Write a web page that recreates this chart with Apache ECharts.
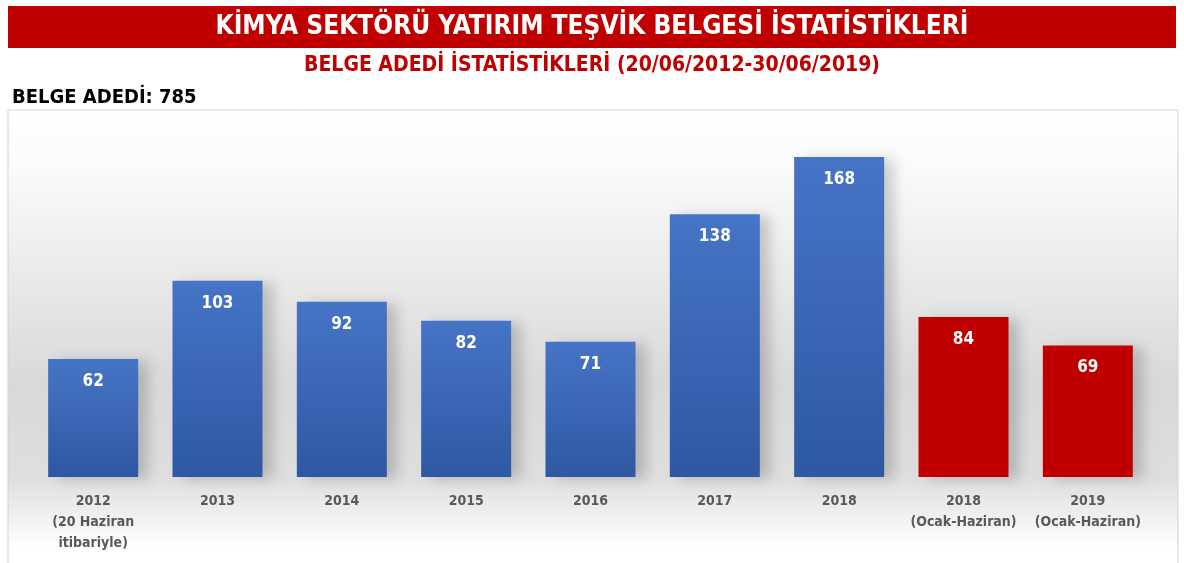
<!DOCTYPE html>
<html><head><meta charset="utf-8">
<script src="https://cdn.jsdelivr.net/npm/echarts@6/dist/echarts.min.js"></script>
<style>html,body{margin:0;padding:0;background:#fff;}#c{width:1184px;height:563px;}</style>
</head><body><div id="c"></div>
<script>
const categories = ['2012\n(20 Haziran\nitibariyle)', '2013', '2014', '2015', '2016', '2017', '2018', '2018\n(Ocak-Haziran)', '2019\n(Ocak-Haziran)'];
const values = [62, 103, 92, 82, 71, 138, 168, 84, 69];
const periodType = ['full', 'full', 'full', 'full', 'full', 'full', 'full', 'half', 'half'];
const titleText = 'KİMYA SEKTÖRÜ YATIRIM TEŞVİK BELGESİ İSTATİSTİKLERİ';
const subtitleText = 'BELGE ADEDİ İSTATİSTİKLERİ (20/06/2012-30/06/2019)';
const totalText = 'BELGE ADEDİ: 785';

const FONT = '"DejaVu Sans Condensed", "Liberation Sans Narrow", "Open Sans", sans-serif';
const blue = new echarts.graphic.LinearGradient(0, 0, 0, 1, [
  {offset: 0, color: '#4674c6'}, {offset: 1, color: '#2f58a2'}]);
const red = '#c00000';

const chart = echarts.init(document.getElementById('c'), null, {renderer: 'canvas'});
chart.setOption({
  animation: false,
  backgroundColor: '#fff',
  graphic: [
    {type: 'rect', shape: {x: 8, y: 110, width: 1170, height: 470}, z: -10,
     style: {fill: new echarts.graphic.LinearGradient(0, 0, 0, 1, [
       {offset: 0, color: '#ffffff'}, {offset: 0.12, color: '#fbfbfb'}, {offset: 0.58, color: '#d9d9d9'},
       {offset: 0.78, color: '#dedede'}, {offset: 0.93, color: '#ffffff'}, {offset: 1, color: '#ffffff'}]),
       stroke: '#d4d4d4', lineWidth: 1}},
    {type: 'rect', shape: {x: 8, y: 6, width: 1168, height: 42}, style: {fill: red}},
    {type: 'text', x: 592, y: 27, style: {text: titleText, fill: '#fff', font: 'bold 26px ' + FONT, align: 'center', verticalAlign: 'middle'}},
    {type: 'text', x: 592, y: 66, style: {text: subtitleText, fill: red, font: 'bold 21px ' + FONT, align: 'center', verticalAlign: 'middle'}},
    {type: 'text', x: 12, y: 98, style: {text: totalText, fill: '#000', font: 'bold 20px ' + FONT, align: 'left', verticalAlign: 'middle'}}
  ],
  grid: {left: 31, right: 34, top: 157, bottom: 86, containLabel: false},
  xAxis: {
    type: 'category', data: categories,
    axisLine: {show: false}, axisTick: {show: false},
    axisLabel: {color: '#595959', fontFamily: FONT, fontWeight: 'bold', fontSize: 14, lineHeight: 21, margin: 14, interval: 0}
  },
  yAxis: {type: 'value', min: 0, max: 168, show: false, splitLine: {show: false}},
  series: [{
    type: 'bar', barWidth: 90,
    data: values.map((v, i) => ({value: v, itemStyle: {color: periodType[i] === 'half' ? red : blue}})),
    itemStyle: {shadowColor: 'rgba(0,0,0,0.18)', shadowBlur: 12, shadowOffsetX: 10, shadowOffsetY: 2},
    label: {show: true, position: 'insideTop', distance: 14, color: '#fff', fontFamily: FONT, fontWeight: 'bold', fontSize: 17}
  }]
});
</script></body></html>
